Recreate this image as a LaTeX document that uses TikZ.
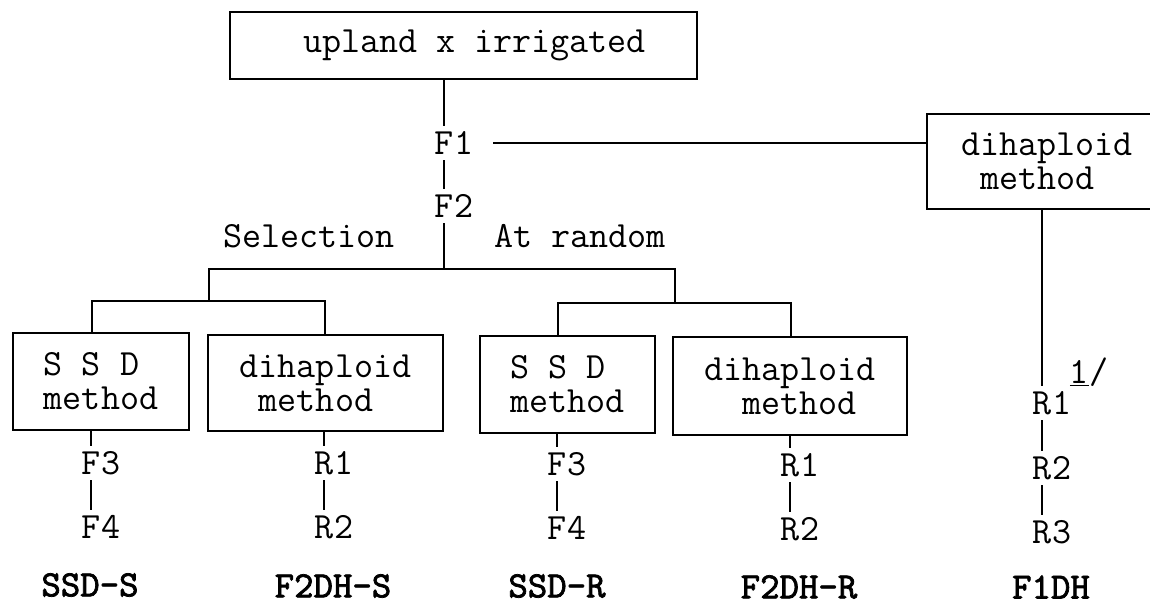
\documentclass[tikz,border=0pt]{standalone}
\usepackage{fontspec}
\newfontface\resfont[FakeBold=2]{lmmono10-regular.otf}
\begin{document}
\begin{tikzpicture}[x=0.5pt,y=-0.5pt,
  txt/.style={font=\ttfamily\fontsize{18.5}{17}\selectfont},
  box/.style={txt,draw,line width=1.3pt,inner sep=0pt,align=left},
  lab/.style={txt,inner sep=0pt,minimum height=17pt},
  res/.style={font=\resfont\fontsize{18.5}{17}\selectfont,inner sep=0pt},
  conn/.style={line width=1.1pt}]
\useasboundingbox (0,0) rectangle (1150,606);
\clip (0,0) rectangle (1150,606);
% boxes
\node[box,minimum width=233.5pt,minimum height=33.5pt] (top) at (463.5,45.5) {\hspace*{11pt}upland x irrigated};
\node[box,minimum width=120pt,minimum height=47.5pt] (rbox) at (1047,161.5) {dihaploid\\\hphantom{m}method};
\node[box,minimum width=88pt,minimum height=48.5pt] (ssd1) at (101,381.5) {S S D\\method};
\node[box,minimum width=117.5pt,minimum height=48pt] (dih1) at (325.5,383) {dihaploid\\\hphantom{m}method};
\node[box,minimum width=87.5pt,minimum height=48.5pt] (ssd2) at (567.5,384.5) {S S D\\method};
\node[box,minimum width=117pt,minimum height=49pt] (dih2) at (790,386) {dihaploid\\\hphantom{mm}method};
% generation labels
\node[lab] (F1) at (454,143) {F1};
\node[lab] (F2) at (454,206) {F2};
\node[txt,anchor=base] (sel) at (309,247) {Selection};
\node[txt,anchor=base] (rnd) at (580,247) {At random};
\node[lab] (aF3) at (101,463) {F3};
\node[lab] (aF4) at (101,527) {F4};
\node[lab] (bR1) at (334,463) {R1};
\node[lab] (bR2) at (334,527) {R2};
\node[lab] (cF3) at (567,464) {F3};
\node[lab] (cF4) at (567,528) {F4};
\node[lab] (dR1) at (800,465) {R1};
\node[lab] (dR2) at (800,529) {R2};
\node[lab] (eR1) at (1052,403) {R1};
\node[lab] (eR2) at (1052,468) {R2};
\node[lab] (eR3) at (1052,532) {R3};
\node[txt,anchor=base,inner sep=0pt] (note) at (1089,383) {\underline{1}/};
% results
\node[res] (rs1) at (90,585) {SSD-S};
\node[res] (rs2) at (333,586) {F2DH-S};
\node[res] (rs3) at (557,586) {SSD-R};
\node[res] (rs4) at (799,587) {F2DH-R};
\node[res] (rs5) at (1051,587) {F1DH};
% junctions
\coordinate (j0) at (444,269);
\coordinate (j1) at (209,269);
\coordinate (j2) at (675,269);
\coordinate (k1) at (209,301);
\coordinate (k2) at (675,303);
\coordinate (a1) at (92,301);
\coordinate (a2) at (325,301);
\coordinate (a3) at (558,303);
\coordinate (a4) at (791,303);
% connectors
\draw[conn] ([shift={(-10,0)}]F1.north) -- ([shift={(-10,0)}]F1.north |- top.south);
\draw[conn] ([shift={(-10,0)}]F1.south) -- ([shift={(-10,0)}]F2.north);
\draw[conn] ([shift={(20,0)}]F1.east) -- (F1.east -| rbox.west);
\draw[conn] ([shift={(-10,0)}]F2.south) -- (j0);
\draw[conn] (k1) -- (j1) -- (j2) -- (k2);
\draw[conn] (ssd1.north -| a1) |- (a2) -- (a2 |- dih1.north);
\draw[conn] (ssd2.north -| a3) |- (a4) -- (a4 |- dih2.north);
\draw[conn] ([shift={(-10,0)}]aF3.north) -- ([shift={(-10,0)}]aF3.north |- ssd1.south);
\draw[conn] ([shift={(-10,0)}]aF3.south) -- ([shift={(-10,0)}]aF4.north);
\draw[conn] ([shift={(-10,0)}]bR1.north) -- ([shift={(-10,0)}]bR1.north |- dih1.south);
\draw[conn] ([shift={(-10,0)}]bR1.south) -- ([shift={(-10,0)}]bR2.north);
\draw[conn] ([shift={(-10,0)}]cF3.north) -- ([shift={(-10,0)}]cF3.north |- ssd2.south);
\draw[conn] ([shift={(-10,0)}]cF3.south) -- ([shift={(-10,0)}]cF4.north);
\draw[conn] ([shift={(-10,0)}]dR1.north) -- ([shift={(-10,0)}]dR1.north |- dih2.south);
\draw[conn] ([shift={(-10,0)}]dR1.south) -- ([shift={(-10,0)}]dR2.north);
\draw[conn] ([shift={(-10,0)}]eR1.north) -- ([shift={(-10,0)}]eR1.north |- rbox.south);
\draw[conn] ([shift={(-10,0)}]eR1.south) -- ([shift={(-10,0)}]eR2.north);
\draw[conn] ([shift={(-10,0)}]eR2.south) -- ([shift={(-10,0)}]eR3.north);
\end{tikzpicture}
\end{document}
